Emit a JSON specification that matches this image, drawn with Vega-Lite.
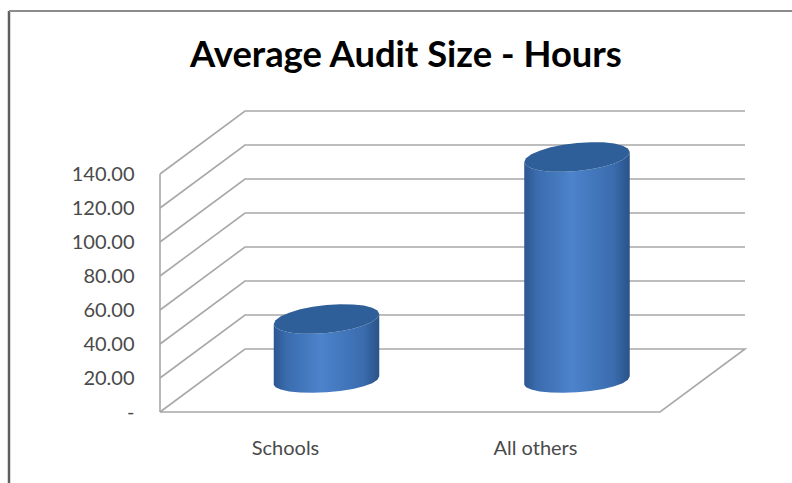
{"$schema":"https://vega.github.io/schema/vega-lite/v6.json","width":585,"height":302,"autosize":"none","padding":{"left":160,"top":110,"right":47,"bottom":71},"background":"white","config":{"view":{"stroke":null}},
"title":{"text":"Average Audit Size - Hours","anchor":"start","frame":"group","dx":30,"offset":-68,"font":"Lato","fontSize":36.4,"fontWeight":"bold","color":"#000000"},
"datasets":{
"frame":[{"s":"left","i":0,"x":-30.2,"y":-41.8},{"s":"left","i":1,"x":-30.2,"y":235.9}],
"frametop":[{"s":"top","i":0,"x":-30.2,"y":235.9},{"s":"top","i":1,"x":126.4,"y":235.9}],
"wire":[
{"s":"floor","i":0,"x":0,"y":0},{"s":"floor","i":1,"x":100,"y":0},{"s":"floor","i":2,"x":117,"y":37.06},{"s":"floor","i":3,"x":17,"y":37.06},{"s":"floor","i":4,"x":0,"y":0},
{"s":"wall","i":0,"x":0,"y":0},{"s":"wall","i":1,"x":0,"y":140},
{"s":"g20","i":0,"x":0,"y":20},{"s":"g20","i":1,"x":17,"y":57.06},{"s":"g20","i":2,"x":117,"y":57.06},
{"s":"g40","i":0,"x":0,"y":40},{"s":"g40","i":1,"x":17,"y":77.06},{"s":"g40","i":2,"x":117,"y":77.06},
{"s":"g60","i":0,"x":0,"y":60},{"s":"g60","i":1,"x":17,"y":97.06},{"s":"g60","i":2,"x":117,"y":97.06},
{"s":"g80","i":0,"x":0,"y":80},{"s":"g80","i":1,"x":17,"y":117.06},{"s":"g80","i":2,"x":117,"y":117.06},
{"s":"g100","i":0,"x":0,"y":100},{"s":"g100","i":1,"x":17,"y":137.06},{"s":"g100","i":2,"x":117,"y":137.06},
{"s":"g120","i":0,"x":0,"y":120},{"s":"g120","i":1,"x":17,"y":157.06},{"s":"g120","i":2,"x":117,"y":157.06},
{"s":"g140","i":0,"x":0,"y":140},{"s":"g140","i":1,"x":17,"y":177.06},{"s":"g140","i":2,"x":117,"y":177.06}
],
"body":[
{"c":"Schools","x":22.75,"y":16,"y2":51.76},{"c":"Schools","x":23.11,"y":14.6,"y2":49.73},{"c":"Schools","x":24.16,"y":13.2,"y2":48.03},{"c":"Schools","x":25.84,"y":12.1,"y2":46.79},{"c":"Schools","x":28.02,"y":11.4,"y2":46.09},{"c":"Schools","x":30.57,"y":11.3,"y2":45.98},{"c":"Schools","x":33.3,"y":11.6,"y2":46.46},{"c":"Schools","x":36.03,"y":12.4,"y2":47.5},{"c":"Schools","x":38.58,"y":13.6,"y2":49.03},{"c":"Schools","x":40.76,"y":15.1,"y2":50.95},{"c":"Schools","x":42.44,"y":16.9,"y2":53.13},{"c":"Schools","x":43.49,"y":18.9,"y2":55.41},{"c":"Schools","x":43.85,"y":21,"y2":57.64},
{"c":"All others","x":72.85,"y":16,"y2":147.06},{"c":"All others","x":73.21,"y":14.6,"y2":145.03},{"c":"All others","x":74.26,"y":13.2,"y2":143.33},{"c":"All others","x":75.94,"y":12.1,"y2":142.09},{"c":"All others","x":78.12,"y":11.4,"y2":141.39},{"c":"All others","x":80.67,"y":11.3,"y2":141.28},{"c":"All others","x":83.4,"y":11.6,"y2":141.76},{"c":"All others","x":86.13,"y":12.4,"y2":142.8},{"c":"All others","x":88.68,"y":13.6,"y2":144.33},{"c":"All others","x":90.86,"y":15.1,"y2":146.25},{"c":"All others","x":92.54,"y":16.9,"y2":148.43},{"c":"All others","x":93.59,"y":18.9,"y2":150.71},{"c":"All others","x":93.95,"y":21,"y2":152.94}
],
"cap":[
{"c":"Schools","x":22.75,"y":51.76,"y2":51.76},{"c":"Schools","x":23.11,"y":49.73,"y2":53.99},{"c":"Schools","x":24.16,"y":48.03,"y2":56.27},{"c":"Schools","x":25.84,"y":46.79,"y2":58.45},{"c":"Schools","x":28.02,"y":46.09,"y2":60.37},{"c":"Schools","x":30.57,"y":45.98,"y2":61.9},{"c":"Schools","x":33.3,"y":46.46,"y2":62.94},{"c":"Schools","x":36.03,"y":47.5,"y2":63.42},{"c":"Schools","x":38.58,"y":49.03,"y2":63.31},{"c":"Schools","x":40.76,"y":50.95,"y2":62.61},{"c":"Schools","x":42.44,"y":53.13,"y2":61.37},{"c":"Schools","x":43.49,"y":55.41,"y2":59.67},{"c":"Schools","x":43.85,"y":57.64,"y2":57.64},
{"c":"All others","x":72.85,"y":147.06,"y2":147.06},{"c":"All others","x":73.21,"y":145.03,"y2":149.29},{"c":"All others","x":74.26,"y":143.33,"y2":151.57},{"c":"All others","x":75.94,"y":142.09,"y2":153.75},{"c":"All others","x":78.12,"y":141.39,"y2":155.67},{"c":"All others","x":80.67,"y":141.28,"y2":157.2},{"c":"All others","x":83.4,"y":141.76,"y2":158.24},{"c":"All others","x":86.13,"y":142.8,"y2":158.72},{"c":"All others","x":88.68,"y":144.33,"y2":158.61},{"c":"All others","x":90.86,"y":146.25,"y2":157.91},{"c":"All others","x":92.54,"y":148.43,"y2":156.67},{"c":"All others","x":93.59,"y":150.71,"y2":154.97},{"c":"All others","x":93.95,"y":152.94,"y2":152.94}
]
},
"layer":[
{"data":{"name":"frame"},"mark":{"type":"line","stroke":"#5f5f5f","strokeWidth":2.5,"clip":false},"encoding":{"x":{"field":"x","type":"quantitative","scale":{"domain":[0,117],"nice":false,"zero":false},"axis":{"values":[25,75],"title":null,"domain":false,"ticks":false,"grid":false,"labelExpr":"datum.value==25?'Schools':'All others'","labelFont":"Lato","labelFontSize":20,"labelColor":"#4a4a4a","labelPadding":36,"labelBaseline":"middle"}},"y":{"field":"y","type":"quantitative","scale":{"domain":[0,177.65],"nice":false,"zero":false},"axis":{"values":[0,20,40,60,80,100,120,140],"title":null,"domain":false,"ticks":false,"grid":false,"labelExpr":"datum.value==0?'-\u2007\u2007':format(datum.value,'.2f')","labelFont":"Lato","labelFontSize":20,"labelColor":"#4a4a4a","labelPadding":26}},"order":{"field":"i"}}},
{"data":{"name":"frametop"},"mark":{"type":"line","stroke":"#8c8c8c","strokeWidth":2,"clip":false},"encoding":{"x":{"field":"x","type":"quantitative"},"y":{"field":"y","type":"quantitative"},"order":{"field":"i"}}},
{"data":{"name":"wire"},"mark":{"type":"line","stroke":"#a8a8a8","strokeWidth":1.6,"clip":false},"encoding":{"x":{"field":"x","type":"quantitative"},"y":{"field":"y","type":"quantitative"},"detail":{"field":"s"},"order":{"field":"i"}}},
{"data":{"name":"body"},"mark":{"type":"area","clip":false,"fill":{"gradient":"linear","x1":0,"x2":1,"y1":0,"y2":0,"stops":[{"offset":0,"color":"#2c5690"},{"offset":0.12,"color":"#3a6cae"},{"offset":0.45,"color":"#4c83cb"},{"offset":0.85,"color":"#3a6cae"},{"offset":1,"color":"#2a5288"}]}},"encoding":{"x":{"field":"x","type":"quantitative"},"y":{"field":"y","type":"quantitative"},"y2":{"field":"y2"},"detail":{"field":"c"}}},
{"data":{"name":"cap"},"mark":{"type":"area","clip":false,"fill":"#2f5f98"},"encoding":{"x":{"field":"x","type":"quantitative"},"y":{"field":"y","type":"quantitative"},"y2":{"field":"y2"},"detail":{"field":"c"}}}
]}
